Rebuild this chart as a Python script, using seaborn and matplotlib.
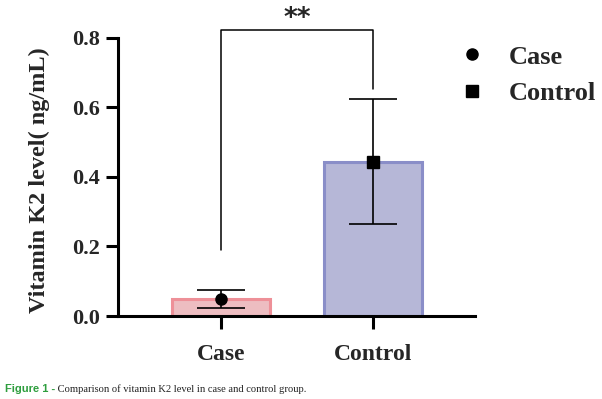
import matplotlib
matplotlib.use("Agg")
import matplotlib.pyplot as plt
import seaborn as sns
from matplotlib.lines import Line2D

# data
groups = ["Case", "Control"]
means = [0.048, 0.443]
err_low = [0.024, 0.265]
err_high = [0.074, 0.624]
face_colors = ["#f5b5bb", "#b1b2dc"]
edge_colors = ["#ee9098", "#8a8ec8"]
markers = ["o", "s"]
yticks = [0.0, 0.2, 0.4, 0.6, 0.8]
sig_label = "**"
caption_head = "Figure 1 -"
caption_text = " Comparison of vitamin K2 level in case and control group."

sns.set_style("white")
plt.rcParams["font.family"] = ["Liberation Serif", "DejaVu Sans"]
plt.rcParams["font.weight"] = "bold"

fig = plt.figure(figsize=(6.02, 3.99), dpi=100)
ax = fig.add_axes([0.196, 0.208, 0.593, 0.697])

sns.barplot(x=groups, y=means, hue=groups, palette=face_colors, legend=False,
            width=0.64, linewidth=2.2, ax=ax)
for patch, ec in zip(ax.patches, edge_colors):
    patch.set_edgecolor(ec)

# error bars and mean markers
for i, g in enumerate(groups):
    ax.errorbar(i, means[i], yerr=[[means[i] - err_low[i]], [err_high[i] - means[i]]],
                fmt="none", ecolor="black", elinewidth=1.2, capsize=17, capthick=1.2, zorder=4)
    ax.plot(i, means[i], marker=markers[i], color="black", markersize=8 if i == 0 else 8.5,
            linestyle="none", zorder=5)

ax.set_xlim(-0.678, 1.67)
ax.set_ylim(0, 0.8)
ax.set_yticks(yticks)
ax.set_yticklabels([f"{t:.1f}" for t in yticks], fontsize=16, fontweight="bold")
ax.set_xticks([0, 1])
ax.set_xticklabels(groups, fontsize=17, fontweight="bold")
ax.tick_params(axis="both", direction="out", length=9, width=2.2, color="black",
               left=True, bottom=True, pad=4)
ax.tick_params(axis="x", pad=11)
for s in ["top", "right"]:
    ax.spines[s].set_visible(False)
for s in ["left", "bottom"]:
    ax.spines[s].set_linewidth(2.2)
    ax.spines[s].set_color("black")
ax.set_xlabel("")
ax.set_ylabel("Vitamin K2 level( ng/mL)", fontsize=17.5, fontweight="bold")
ax.yaxis.set_label_coords(-0.19, 0.49)

# significance bracket
ax.plot([0, 0, 1, 1], [0.19, 0.824, 0.824, 0.653], color="black", linewidth=1.1,
        clip_on=False, zorder=3)
ax.text(0.5, 0.835, sig_label, ha="center", va="baseline", fontsize=19, fontweight="bold",
        family="DejaVu Sans", clip_on=False)

# legend
handles = [Line2D([], [], marker=m, color="black", linestyle="none", markersize=8)
           for m in markers]
fig.legend(handles, groups, loc="upper left", bbox_to_anchor=(0.762, 0.887),
           frameon=False, prop={"size": 19, "weight": "bold"},
           handlelength=1, handletextpad=0.9, labelspacing=0.49, borderpad=0,
           borderaxespad=0)

# caption
t1 = fig.text(0.008, 0.018, caption_head, color="#2e9e3e", fontsize=8, fontweight="bold",
              family="Liberation Sans")
fig.canvas.draw()
bb = t1.get_window_extent()
fig.text(bb.x1 / fig.bbox.width, 0.018, caption_text, color="#222222", fontsize=7.6,
         fontweight="normal", family="Liberation Serif")

fig.savefig("out.png", dpi=100)
